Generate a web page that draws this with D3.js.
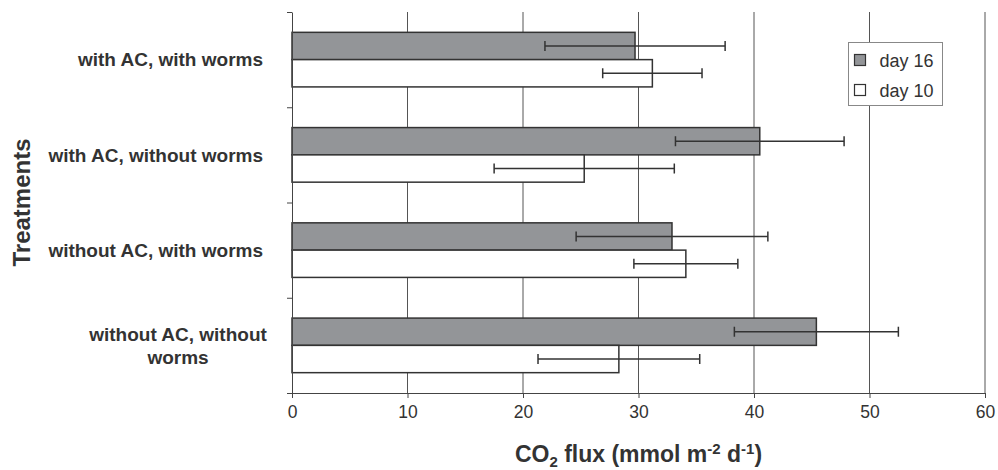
<!DOCTYPE html>
<html>
<head>
<meta charset="utf-8">
<script src="https://cdn.jsdelivr.net/npm/d3@7"></script>
<style>
  body { margin: 0; background: #fff; }
  text { font-family: "Liberation Sans", Arial, Helvetica, sans-serif; fill: #333; }
</style>
</head>
<body>
<div id="chart"></div>
<script>
// categories top to bottom, with the line breaks of the labels
var categories = ["with AC, with worms", "with AC, without worms", "without AC, with worms", "without AC, without worms"];
var labelLines = [["with AC, with worms"], ["with AC, without worms"], ["without AC, with worms"], ["without AC, without", "worms"]];
var seriesNames = ["day 16", "day 10"];
// CO2 flux means and error (+/-)
var day16 = [29.7, 40.5, 32.9, 45.4];
var day16err = [7.8, 7.3, 8.3, 7.1];
var day10 = [31.2, 25.3, 34.1, 28.3];
var day10err = [4.3, 7.8, 4.5, 7.0];
var xTicks = [0, 10, 20, 30, 40, 50, 60];

var W = 998, H = 470;
var margin = { top: 12, right: 13, bottom: 77, left: 292 };
var width = W - margin.left - margin.right,
    height = H - margin.top - margin.bottom;

var svg = d3.select("#chart").append("svg")
    .attr("width", W)
    .attr("height", H);
var g = svg.append("g")
    .attr("transform", "translate(" + margin.left + "," + margin.top + ")");

var x = d3.scaleLinear().domain([0, 60]).range([0, width]);
var y = d3.scaleBand().domain(categories).range([0, height]).paddingInner(0.427).paddingOuter(0.2135);
var ySub = d3.scaleBand().domain(seriesNames).range([0, y.bandwidth()]);
var colors = { "day 16": "#939598", "day 10": "#ffffff" };

// vertical gridlines
g.append("g").selectAll("line").data(xTicks.slice(1)).enter().append("line")
    .attr("x1", function(d){ return x(d); }).attr("x2", function(d){ return x(d); })
    .attr("y1", 0).attr("y2", height)
    .attr("stroke", "#555").attr("stroke-width", 1);

// rows of data
var rows = categories.map(function(c, i){
  return [
    { cat: c, s: "day 16", v: day16[i], e: day16err[i] },
    { cat: c, s: "day 10", v: day10[i], e: day10err[i] }
  ];
});
var flat = [].concat.apply([], rows);

g.append("g").selectAll("rect").data(flat).enter().append("rect")
    .attr("x", x(0))
    .attr("y", function(d){ return y(d.cat) + ySub(d.s); })
    .attr("width", function(d){ return x(d.v) - x(0); })
    .attr("height", ySub.bandwidth())
    .attr("fill", function(d){ return colors[d.s]; })
    .attr("stroke", "#333").attr("stroke-width", 1.5);

// error bars
var eb = g.append("g").selectAll("g").data(flat).enter().append("g")
    .attr("transform", function(d){ return "translate(0," + (y(d.cat) + ySub(d.s) + ySub.bandwidth() / 2) + ")"; });
eb.append("line")
    .attr("x1", function(d){ return x(d.v - d.e); }).attr("x2", function(d){ return x(d.v + d.e); })
    .attr("stroke", "#333").attr("stroke-width", 1.5);
eb.append("line")
    .attr("x1", function(d){ return x(d.v - d.e); }).attr("x2", function(d){ return x(d.v - d.e); })
    .attr("y1", -5).attr("y2", 5)
    .attr("stroke", "#333").attr("stroke-width", 1.5);
eb.append("line")
    .attr("x1", function(d){ return x(d.v + d.e); }).attr("x2", function(d){ return x(d.v + d.e); })
    .attr("y1", -5).attr("y2", 5)
    .attr("stroke", "#333").attr("stroke-width", 1.5);

// x axis
var xAxis = g.append("g")
    .attr("transform", "translate(0," + height + ")")
    .call(d3.axisBottom(x).tickValues(xTicks).tickSize(5).tickPadding(8).tickSizeOuter(0));
xAxis.selectAll("text").style("font-size", "17.5px").attr("fill", "#333");
xAxis.selectAll("line, path").attr("stroke", "#444");

// y axis: ticks on band boundaries
var yEdge = d3.scaleLinear().domain([0, categories.length]).range([0, height]);
var yAxis = g.append("g")
    .call(d3.axisLeft(yEdge).tickValues(d3.range(categories.length + 1)).tickSize(5).tickFormat("").tickSizeOuter(0));
yAxis.selectAll("line, path").attr("stroke", "#444");

// category labels
labelLines.forEach(function(lines, i){
  var cy = y(categories[i]) + y.bandwidth() / 2;
  var lh = 23;
  var t = g.append("text")
      .attr("font-weight", "bold")
      .style("font-size", "19px")
      .attr("text-anchor", lines.length > 1 ? "middle" : "end");
  var tx = lines.length > 1 ? -114 : -29;
  lines.forEach(function(l, j){
    t.append("tspan")
        .attr("x", tx)
        .attr("y", cy + (j - (lines.length - 1) / 2) * lh)
        .attr("dy", "0.35em")
        .text(l);
  });
});

// axis titles
svg.append("text")
    .attr("transform", "translate(30," + (margin.top + height / 2) + ") rotate(-90)")
    .attr("text-anchor", "middle")
    .attr("font-weight", "bold")
    .style("font-size", "24px")
    .text("Treatments");

var xt = svg.append("text")
    .attr("x", margin.left + width / 2)
    .attr("y", 462)
    .attr("text-anchor", "middle")
    .attr("font-weight", "bold")
    .style("font-size", "23px");
xt.append("tspan").text("CO");
xt.append("tspan").attr("dy", 5).style("font-size", "15px").text("2");
xt.append("tspan").attr("dy", -5).text(" flux (mmol m");
xt.append("tspan").attr("dy", -8).style("font-size", "15px").text("-2");
xt.append("tspan").attr("dy", 8).text(" d");
xt.append("tspan").attr("dy", -8).style("font-size", "15px").text("-1");
xt.append("tspan").attr("dy", 8).text(")");

// legend
var lg = svg.append("g").attr("transform", "translate(848.5,42.5)");
lg.append("rect").attr("width", 94).attr("height", 63)
    .attr("fill", "#fff").attr("stroke", "#888").attr("stroke-width", 1);
seriesNames.forEach(function(s, i){
  lg.append("rect")
      .attr("x", 6).attr("y", 12 + i * 30)
      .attr("width", 11).attr("height", 11)
      .attr("fill", colors[s]).attr("stroke", "#333").attr("stroke-width", 1.2);
  lg.append("text")
      .attr("x", 31).attr("y", 18 + i * 30)
      .attr("dy", "0.35em")
      .style("font-size", "18px")
      .text(s);
});
</script>
</body>
</html>
